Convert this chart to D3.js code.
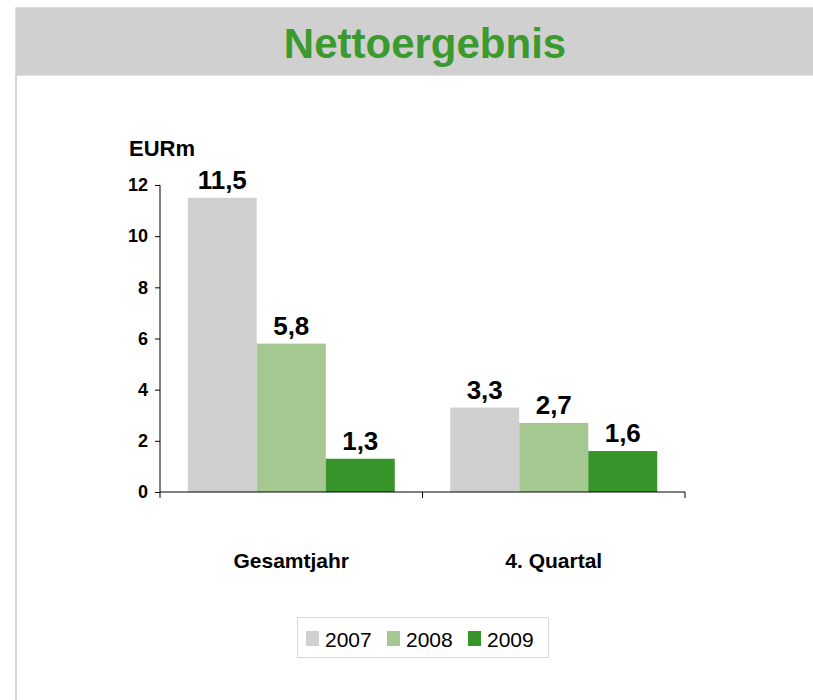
<!DOCTYPE html>
<html>
<head>
<meta charset="utf-8">
<script src="https://cdn.jsdelivr.net/npm/d3@7"></script>
<style>
  body { margin: 0; background: #fff; }
  svg { display: block; font-family: "Liberation Sans", Arial, sans-serif; }
</style>
</head>
<body>
<svg width="813" height="700"></svg>
<script>
  // data
  const categories = ['Gesamtjahr', '4. Quartal'];
  const years = ['2007', '2008', '2009'];
  const values2007 = [11.5, 3.3];
  const values2008 = [5.8, 2.7];
  const values2009 = [1.3, 1.6];
  const yTicks = [0, 2, 4, 6, 8, 10, 12];
  const colors = ['#d0d0d0', '#a5c890', '#37952b'];

  const series = [values2007, values2008, values2009];
  const rows = categories.map((c, i) => ({
    category: c,
    values: years.map((y, j) => ({ year: y, value: series[j][i], color: colors[j] }))
  }));

  const svg = d3.select('svg');
  const fmt = v => d3.format('.1f')(v).replace('.', ',');

  // header band and frame
  svg.append('rect')
    .attr('x', 15.5).attr('y', 7.5)
    .attr('width', 800).attr('height', 68)
    .attr('fill', '#d0d0d0')
    .attr('stroke', '#e0e0e0');
  svg.append('line')
    .attr('x1', 16).attr('x2', 16)
    .attr('y1', 75).attr('y2', 700)
    .attr('stroke', '#d4d4d4').attr('stroke-width', 2);

  svg.append('text')
    .attr('x', 425).attr('y', 58)
    .attr('text-anchor', 'middle')
    .attr('font-size', 42).attr('font-weight', 'bold')
    .attr('fill', '#3a9a2d')
    .text('Nettoergebnis');

  const x = d3.scaleBand().domain(categories).range([160, 685]).padding(0);
  const xSub = d3.scaleBand().domain(years).range([0, x.bandwidth()])
    .paddingInner(0).paddingOuter(0.402);
  const y = d3.scaleLinear().domain([0, 12]).range([492, 185]);

  // bars
  const groups = svg.selectAll('g.cat').data(rows)
    .enter().append('g')
    .attr('class', 'cat')
    .attr('transform', d => `translate(${x(d.category)},0)`);

  groups.selectAll('rect').data(d => d.values)
    .enter().append('rect')
    .attr('x', d => xSub(d.year))
    .attr('y', d => y(d.value))
    .attr('width', xSub.bandwidth())
    .attr('height', d => y(0) - y(d.value))
    .attr('fill', d => d.color);

  groups.selectAll('text.val').data(d => d.values)
    .enter().append('text')
    .attr('class', 'val')
    .attr('x', d => xSub(d.year) + xSub.bandwidth() / 2)
    .attr('y', d => y(d.value) - 9)
    .attr('text-anchor', 'middle')
    .attr('font-size', 26).attr('font-weight', 'bold')
    .text(d => fmt(d.value));

  // y axis
  const yAxis = svg.append('g')
    .attr('transform', 'translate(160,0)')
    .call(d3.axisLeft(y).tickValues(yTicks).tickSize(5).tickPadding(7).tickFormat(d3.format('d')));
  yAxis.select('.domain').attr('d', `M-0.5,${y(12)}H0V${y(0)}`).attr('stroke', '#000');
  yAxis.selectAll('text')
    .attr('font-size', 18).attr('font-weight', 'bold')
    .attr('font-family', '"Liberation Sans", Arial, sans-serif')
    .attr('fill', '#000');

  // x axis
  const xAxis = svg.append('g').attr('transform', `translate(0,${y(0)})`);
  xAxis.append('line')
    .attr('x1', 160).attr('x2', 685)
    .attr('stroke', '#000');
  xAxis.selectAll('line.tick').data([160, ...categories.map(c => x(c) + x.bandwidth())])
    .enter().append('line')
    .attr('class', 'tick')
    .attr('x1', d => d).attr('x2', d => d)
    .attr('y1', 0).attr('y2', 6)
    .attr('stroke', '#000');

  svg.selectAll('text.cat').data(categories)
    .enter().append('text')
    .attr('class', 'cat')
    .attr('x', d => x(d) + x.bandwidth() / 2)
    .attr('y', 568)
    .attr('text-anchor', 'middle')
    .attr('font-size', 21).attr('font-weight', 'bold')
    .text(d => d);

  svg.append('text')
    .attr('x', 129).attr('y', 156)
    .attr('font-size', 22).attr('font-weight', 'bold')
    .text('EURm');

  // legend
  const legend = svg.append('g');
  legend.append('rect')
    .attr('x', 297.5).attr('y', 617.5)
    .attr('width', 251).attr('height', 40)
    .attr('fill', '#fff')
    .attr('stroke', '#d9d9d9');
  const legendX = [306, 387, 468];
  const items = legend.selectAll('g.item').data(years)
    .enter().append('g')
    .attr('class', 'item')
    .attr('transform', (d, i) => `translate(${legendX[i]},631)`);
  items.append('rect')
    .attr('width', 13).attr('height', 15)
    .attr('fill', (d, i) => colors[i]);
  items.append('text')
    .attr('x', 19).attr('y', 16)
    .attr('font-size', 21)
    .text(d => d);
</script>
</body>
</html>
